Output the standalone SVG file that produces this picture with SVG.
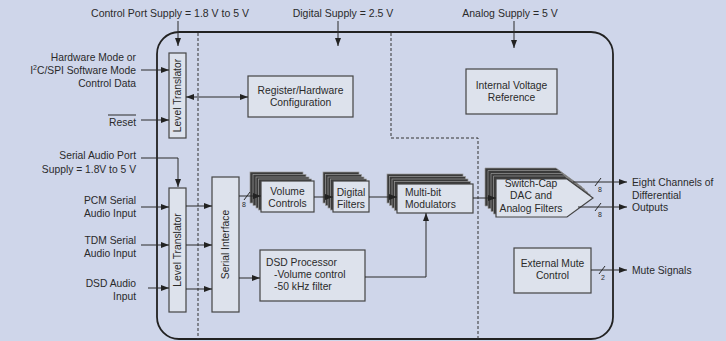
<svg xmlns="http://www.w3.org/2000/svg" width="726" height="341" viewBox="0 0 726 341">
<defs>
<style>
text{font-family:"Liberation Sans",Arial,sans-serif;font-size:10.3px;fill:#2a2a2a}
.top{font-size:10.5px}
.sm{font-size:7px}
.box{fill:#dde2ec;stroke:#444;stroke-width:1.2}
.back{fill:#3a3a3a;stroke:#9a9a9a;stroke-width:0.7}
.con{fill:none;stroke:#2a2a2a;stroke-width:1}
.dash{fill:none;stroke:#333;stroke-width:1;stroke-dasharray:3 2}
.mid{text-anchor:middle}
.end{text-anchor:end}
</style>
<marker id="ah" viewBox="0 0 8 6" refX="8" refY="3" markerWidth="8" markerHeight="6" markerUnits="userSpaceOnUse" orient="auto-start-reverse"><path d="M0,0 L8,3 L0,6 z" fill="#222"/></marker>
</defs>
<rect width="726" height="341" fill="#cfd6ea"/>
<g id="chip">
<path d="M179,32 H591 A22,22 0 0 1 613,54 V317 A22,22 0 0 1 591,339 H179 A22,22 0 0 1 157,317 V54 A22,22 0 0 1 179,32 Z" fill="none" stroke="#222" stroke-width="1.8"/>
<path class="dash" d="M198,33 V339"/>
<path class="dash" d="M391,33 V138 H478 V339"/>
</g>
<g id="labels">
<text class="mid top" x="170" y="17">Control Port Supply = 1.8 V to 5 V</text>
<text class="mid top" x="343" y="17">Digital Supply = 2.5 V</text>
<text class="mid top" x="510" y="17">Analog Supply = 5 V</text>
<text class="end" x="136" y="60.5">Hardware Mode or</text>
<text class="end" x="136" y="73.5">I<tspan class="sm" dy="-4">2</tspan><tspan dy="4">C/SPI Software Mode</tspan></text>
<text class="end" x="136" y="86.5">Control Data</text>
<text class="end" x="136" y="125.5">Reset</text>
<line x1="108" y1="115" x2="136" y2="115" stroke="#2a2a2a" stroke-width="1"/>
<text class="end" x="136" y="158.5">Serial Audio Port</text>
<text class="end" x="136" y="172.5">Supply = 1.8V to 5 V</text>
<text class="end" x="136" y="203.5">PCM Serial</text>
<text class="end" x="136" y="216.5">Audio Input</text>
<text class="end" x="136" y="243.5">TDM Serial</text>
<text class="end" x="136" y="256.5">Audio Input</text>
<text class="end" x="136" y="286.5">DSD Audio</text>
<text class="end" x="136" y="299.5">Input</text>
<text x="632" y="185.5">Eight Channels of</text>
<text x="632" y="198.5">Differential</text>
<text x="632" y="210.5">Outputs</text>
<text x="632" y="273.5">Mute Signals</text>
</g>
<g id="level-translator-control">
<rect class="box" x="169" y="53" width="17" height="85"/>
<text class="mid" transform="translate(181,95.5) rotate(-90)">Level Translator</text>
</g>
<g id="level-translator-audio">
<rect class="box" x="169" y="188" width="17" height="124"/>
<text class="mid" transform="translate(181,250) rotate(-90)">Level Translator</text>
</g>
<g id="serial-interface">
<rect class="box" x="212" y="177" width="27" height="135"/>
<text class="mid" transform="translate(229,244.5) rotate(-90)">Serial Interface</text>
</g>
<g id="register-config">
<rect class="box" x="248" y="76" width="105" height="41"/>
<text class="mid" x="300.5" y="94">Register/Hardware</text>
<text class="mid" x="300.5" y="106">Configuration</text>
</g>
<g id="internal-voltage-reference">
<rect class="box" x="466" y="69" width="91" height="45"/>
<text class="mid" x="511.5" y="89">Internal Voltage</text>
<text class="mid" x="511.5" y="101">Reference</text>
</g>
<g id="volume-controls">
<rect class="back" x="250" y="172" width="53" height="31"/>
<rect class="back" x="253" y="174.5" width="53" height="31"/>
<rect class="back" x="256" y="177" width="53" height="31"/>
<rect class="back" x="258.5" y="179" width="53" height="31"/>
<rect class="box" x="261" y="181" width="53" height="31"/>
<text class="mid" x="287.5" y="194.5">Volume</text>
<text class="mid" x="287.5" y="206.5">Controls</text>
</g>
<g id="digital-filters">
<rect class="back" x="323" y="172" width="36" height="31"/>
<rect class="back" x="325.5" y="174.5" width="36" height="31"/>
<rect class="back" x="328" y="177" width="36" height="31"/>
<rect class="back" x="330.5" y="179" width="36" height="31"/>
<rect class="box" x="333" y="181" width="36" height="31"/>
<text class="mid" x="351" y="196">Digital</text>
<text class="mid" x="351" y="208">Filters</text>
</g>
<g id="multibit-modulators">
<rect class="back" x="387" y="174" width="76" height="29"/>
<rect class="back" x="389.5" y="176.5" width="76" height="29"/>
<rect class="back" x="392" y="179" width="76" height="29"/>
<rect class="back" x="394.5" y="181.5" width="76" height="29"/>
<rect class="box" x="397" y="184" width="76" height="29"/>
<text x="405" y="196">Multi-bit</text>
<text x="405" y="208">Modulators</text>
</g>
<g id="dac">
<path class="back" d="M485,168 H556 L582,187 L556,206 H485 Z"/>
<path class="back" d="M488,170.5 H559 L585,189.5 L559,208.5 H488 Z"/>
<path class="back" d="M491,173.5 H562 L588,192.5 L562,211.5 H491 Z"/>
<path class="back" d="M493.5,176 H564.5 L590.5,195 L564.5,214 H493.5 Z"/>
<path class="box" d="M496,179 H567 L593,198 L567,217 H496 Z"/>
<text class="mid" x="531" y="186.5">Switch-Cap</text>
<text class="mid" x="531" y="199">DAC and</text>
<text class="mid" x="531" y="212">Analog Filters</text>
</g>
<g id="dsd-processor">
<rect class="box" x="260" y="250" width="105" height="51"/>
<text x="266" y="266">DSD Processor</text>
<text x="274" y="278">-Volume control</text>
<text x="274" y="290">-50 kHz filter</text>
</g>
<g id="external-mute">
<rect class="box" x="514" y="248" width="77" height="45"/>
<text class="mid" x="552.5" y="266.5">External Mute</text>
<text class="mid" x="552.5" y="278.5">Control</text>
</g>
<g id="connectors">
<line class="con" x1="178" y1="21" x2="178" y2="46" marker-end="url(#ah)"/>
<line class="con" x1="338" y1="21" x2="338" y2="46" marker-end="url(#ah)"/>
<line class="con" x1="514" y1="21" x2="514" y2="48" marker-end="url(#ah)"/>
<line class="con" x1="141" y1="70" x2="169" y2="70" marker-end="url(#ah)"/>
<line class="con" x1="141" y1="120" x2="169" y2="120" marker-end="url(#ah)"/>
<line class="con" x1="186" y1="97" x2="248" y2="97" marker-start="url(#ah)" marker-end="url(#ah)"/>
<polyline class="con" points="141,158 178,158 178,187" marker-end="url(#ah)"/>
<line class="con" x1="141" y1="207" x2="169" y2="207" marker-end="url(#ah)"/>
<line class="con" x1="141" y1="245" x2="169" y2="245" marker-end="url(#ah)"/>
<line class="con" x1="148" y1="288" x2="169" y2="288" marker-end="url(#ah)"/>
<line class="con" x1="186" y1="206" x2="212" y2="206" marker-end="url(#ah)"/>
<line class="con" x1="186" y1="245" x2="212" y2="245" marker-end="url(#ah)"/>
<line class="con" x1="186" y1="289" x2="212" y2="289" marker-end="url(#ah)"/>
<line class="con" x1="239" y1="196" x2="261" y2="196" marker-end="url(#ah)"/>
<line class="con" x1="244" y1="200" x2="250" y2="192"/>
<text class="sm" x="242" y="207">8</text>
<line class="con" x1="314" y1="197" x2="333" y2="197" marker-end="url(#ah)"/>
<line class="con" x1="369" y1="197" x2="397" y2="197" marker-end="url(#ah)"/>
<line class="con" x1="473" y1="198" x2="496" y2="198" marker-end="url(#ah)"/>
<line class="con" x1="239" y1="278" x2="260" y2="278" marker-end="url(#ah)"/>
<polyline class="con" points="365,277 426,277 426,213" marker-end="url(#ah)"/>
<line class="con" x1="573" y1="182" x2="627" y2="182" marker-end="url(#ah)"/>
<line class="con" x1="595" y1="186" x2="601" y2="178"/>
<text class="sm" x="598" y="192">8</text>
<line class="con" x1="578" y1="207" x2="627" y2="207" marker-end="url(#ah)"/>
<line class="con" x1="595" y1="211" x2="601" y2="203"/>
<text class="sm" x="598" y="217">8</text>
<line class="con" x1="591" y1="270" x2="627" y2="270" marker-end="url(#ah)"/>
<line class="con" x1="599" y1="274" x2="605" y2="266"/>
<text class="sm" x="601" y="280">2</text>
</g>
</svg>
